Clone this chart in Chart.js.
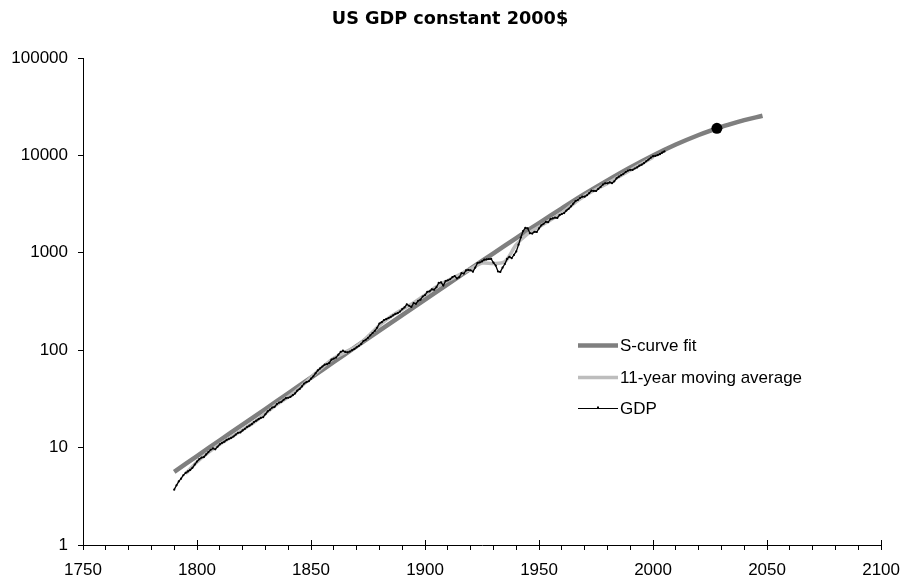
<!DOCTYPE html>
<html lang="en">
<head>
<meta charset="UTF-8">
<title>US GDP constant 2000$</title>
<script src="https://cdn.jsdelivr.net/npm/chart.js"></script>
<style>
  body { margin: 0; background: #fff; }
  #chart { display: block; }
</style>
</head>
<body>
<canvas id="chart" width="910" height="583"></canvas>
<script>
const chartTitle = 'US GDP constant 2000$';
const seriesNames = ['S-curve fit', '11-year moving average', 'GDP'];

// yearly GDP, billions of 2000$, starting 1790
const gdpFirstYear = 1790;
const gdpValues = [
  3.7, 4.1, 4.5, 4.8, 5.2, 5.5, 5.7, 5.9, 6.2, 6.7,           // 1790s
  7.2, 7.6, 7.9, 8.0, 8.5, 9.0, 9.5, 9.8, 9.6, 10.2,          // 1800s
  10.8, 11.2, 11.5, 12.0, 12.3, 12.6, 13.0, 13.6, 14.2, 14.3, // 1810s
  15.0, 15.6, 16.3, 16.8, 17.4, 18.3, 18.9, 19.6, 20.2, 20.5, // 1820s
  22.0, 23.6, 24.5, 25.8, 26.2, 27.9, 29.0, 29.5, 31.0, 32.2, // 1830s
  32.5, 33.2, 34.5, 36.0, 38.5, 40.0, 42.5, 45.5, 47.0, 48.0, // 1840s
  51, 54, 58, 62, 65, 68, 71, 72, 74, 80,                     // 1850s
  82, 84, 90, 96, 99, 96, 95, 97, 100, 103,                   // 1860s
  107, 111, 116, 124, 128, 134, 142, 150, 158, 170,           // 1870s
  188, 194, 204, 208, 214, 220, 228, 236, 240, 249,           // 1880s
  264, 275, 296, 286, 278, 304, 300, 322, 330, 356,           // 1890s
  368, 398, 402, 422, 418, 444, 490, 498, 462, 512,           // 1900s
  522, 535, 562, 578, 545, 562, 618, 612, 660, 668,           // 1910s
  662, 640, 705, 785, 795, 815, 852, 856, 862, 865,           // 1920s
  791, 740, 643, 636, 704, 767, 866, 911, 880, 951,           // 1930s
  1034, 1211, 1435, 1670, 1806, 1786, 1589, 1575, 1644, 1635, // 1940s
  1778, 1914, 1988, 2080, 2065, 2213, 2256, 2301, 2280, 2441, // 1950s
  2502, 2560, 2715, 2834, 2999, 3191, 3399, 3485, 3653, 3765, // 1960s
  3772, 3899, 4105, 4342, 4320, 4311, 4541, 4751, 5015, 5173, // 1970s
  5162, 5292, 5189, 5424, 5814, 6054, 6264, 6475, 6743, 6981, // 1980s
  7113, 7101, 7337, 7533, 7836, 8032, 8329, 8704, 9067, 9470, // 1990s
  9817, 9891, 10049, 10301, 10676, 10990                      // 2000s
];

const maYears = [1795, 1800, 1805, 1810, 1815, 1820, 1825, 1830, 1835, 1840,
  1845, 1850, 1855, 1860, 1865, 1870, 1875, 1880, 1885, 1890,
  1895, 1900, 1905, 1910, 1915, 1920, 1925, 1930, 1935, 1940,
  1945, 1950, 1955, 1960, 1965, 1970, 1975, 1980, 1985, 1990,
  1995, 2000];
const maValues = [5.41, 7.11, 8.92, 10.8, 12.8, 15.2, 18.2, 22.5, 27.7, 33.1,
  40.8, 52.8, 67.0, 82.9, 95.4, 110, 139, 180, 222, 262,
  307, 370, 449, 519, 593, 684, 784, 776, 811, 1211,
  1560, 1842, 2165, 2572, 3170, 3840, 4490, 5157, 6046, 7043,
  8213, 9575];

const fitYears = [1790, 1800, 1810, 1820, 1830, 1840, 1850, 1860, 1870, 1880,
  1890, 1900, 1910, 1920, 1930, 1940, 1950, 1960, 1970, 1980,
  1990, 2000, 2010, 2020, 2028, 2030, 2040, 2048];
const fitValues = [5.64, 8.18, 11.9, 17.2, 24.9, 36.1, 52.3, 75.7, 110, 159,
  229, 331, 478, 689, 989, 1418, 2022, 2860, 4016, 5537,
  7521, 9992, 12921, 16199, 18944, 19633, 23003, 25500];

const markerYears = [2028];
const markerValues = [18944];

const xTickValues = [1750, 1800, 1850, 1900, 1950, 2000, 2050, 2100];
const yTickValues = [1, 10, 100, 1000, 10000, 100000];

function toPoints(xs, ys) {
  return ys.map((v, i) => ({ x: xs[i], y: v }));
}
const gdpPoints = gdpValues.map((v, i) => ({ x: gdpFirstYear + i, y: v }));

const labelFont = { family: '"Liberation Sans", Arial, sans-serif', size: 17 };

// title, legend and the upper half of the major x ticks
const extras = {
  id: 'extras',
  afterDraw(chart) {
    const ctx = chart.ctx;
    const area = chart.chartArea;
    const xs = chart.scales.x;
    ctx.save();
    ctx.strokeStyle = '#000';
    ctx.lineWidth = 1;
    xTickValues.forEach(v => {
      const px = Math.round(xs.getPixelForValue(v)) + 0.5;
      ctx.beginPath();
      ctx.moveTo(px, area.bottom - 5);
      ctx.lineTo(px, area.bottom);
      ctx.stroke();
    });

    ctx.fillStyle = '#000';
    ctx.font = 'bold 17.7px "DejaVu Sans", sans-serif';
    ctx.textAlign = 'center';
    ctx.textBaseline = 'middle';
    ctx.fillText(chartTitle, 450, 19);

    const rows = [3, 2, 1];
    ctx.font = '17px "Liberation Sans", Arial, sans-serif';
    ctx.textAlign = 'left';
    rows.forEach((idx, r) => {
      const ds = chart.data.datasets[idx];
      const y = Math.round(345 + r * 31.5) + 0.5;
      ctx.strokeStyle = ds.borderColor;
      ctx.lineWidth = idx === 1 ? 1 : ds.borderWidth;
      ctx.beginPath();
      ctx.moveTo(578, y);
      ctx.lineTo(618, y);
      ctx.stroke();
      if (idx === 1) {
        ctx.fillStyle = '#000';
        ctx.fillRect(597, y - 2, 2, 2);
      }
      ctx.fillStyle = '#000';
      ctx.fillText(ds.label, 620, y + 0.5);
    });
    ctx.restore();
  }
};

new Chart(document.getElementById('chart'), {
  type: 'line',
  data: {
    datasets: [
      {
        label: 'marker',
        data: toPoints(markerYears, markerValues),
        showLine: false,
        pointRadius: 5.5,
        pointBackgroundColor: '#000',
        pointBorderColor: '#000',
        pointBorderWidth: 0
      },
      {
        label: seriesNames[2],
        data: gdpPoints,
        borderColor: '#000',
        borderWidth: 1.3,
        pointRadius: 1.1,
        pointBackgroundColor: '#000',
        pointBorderColor: '#000',
        pointBorderWidth: 0
      },
      {
        label: seriesNames[1],
        data: toPoints(maYears, maValues),
        borderColor: '#bdbdbd',
        borderWidth: 3.5,
        pointRadius: 0,
        tension: 0.3
      },
      {
        label: seriesNames[0],
        data: toPoints(fitYears, fitValues),
        borderColor: '#7f7f7f',
        borderWidth: 4.5,
        pointRadius: 0,
        tension: 0.4
      }
    ]
  },
  options: {
    responsive: false,
    animation: false,
    devicePixelRatio: 1,
    layout: { padding: { top: 58, right: 21, left: 0, bottom: 0 } },
    plugins: {
      legend: { display: false },
      title: { display: false },
      tooltip: { enabled: false }
    },
    scales: {
      x: {
        type: 'linear',
        min: 1750,
        max: 2100,
        afterFit(scale) { scale.height = 38; },
        ticks: {
          stepSize: 10,
          autoSkip: false,
          maxRotation: 0,
          padding: 10,
          color: '#000',
          font: labelFont,
          callback: v => xTickValues.includes(v) ? String(v) : ''
        },
        grid: { drawOnChartArea: false, drawTicks: true, tickLength: 5, color: '#000' },
        border: { display: true, color: '#000', width: 1 }
      },
      y: {
        type: 'logarithmic',
        min: 1,
        max: 100000,
        afterFit(scale) { scale.width = 83; },
        afterBuildTicks(scale) {
          scale.ticks = yTickValues.map(v => ({ value: v }));
        },
        ticks: {
          padding: 10,
          color: '#000',
          font: labelFont,
          callback: v => String(v)
        },
        grid: { drawOnChartArea: false, drawTicks: true, tickLength: 5, color: '#000' },
        border: { display: true, color: '#000', width: 1 }
      }
    }
  },
  plugins: [extras]
});
</script>
</body>
</html>
